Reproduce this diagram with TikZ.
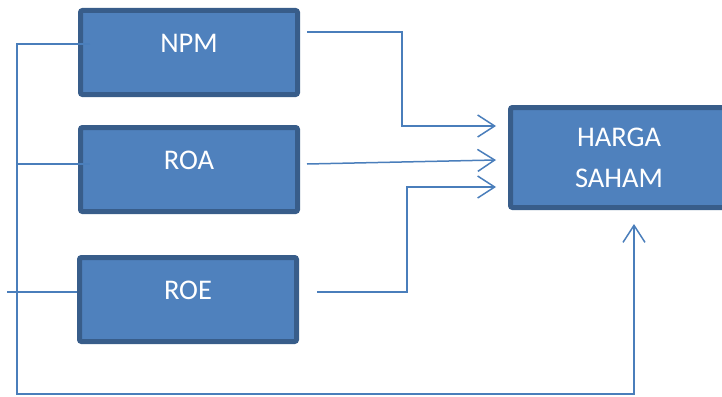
\documentclass[tikz,border=0pt]{standalone}
\usepackage{fontspec}
\setmainfont{Carlito}
\usetikzlibrary{arrows.meta}
\definecolor{boxfill}{HTML}{4F81BD}
\definecolor{boxline}{HTML}{385D8A}
\definecolor{connline}{HTML}{4A7EBB}
\tikzset{
  box/.style={draw=boxline, fill=boxfill, line width=5pt, rounded corners=2pt,
    minimum width=217pt, text=white, font=\fontsize{28.5}{41}\selectfont},
  smallbox/.style={box, minimum height=84pt, text height=20pt, text depth=20pt},
  conn/.style={draw=connline, line width=1.5pt},
  arr/.style={conn, -{Straight Barb[length=17pt, width=22pt]}}
}
\begin{document}
\begin{tikzpicture}[x=1pt, y=-1pt]
\useasboundingbox (0,0) rectangle (722,396);
\clip (0,0) rectangle (722,396);
\node[smallbox] (npm) at (189,52.5) {NPM};
\node[smallbox] (roa) at (189,169.5) {ROA};
\node[smallbox] (roe) at (188,299.5) {ROE};
\node[box, minimum height=100pt, align=center] (harga) at (619,157.5) {HARGA\\SAHAM};
% left bus
\coordinate (b1) at (17,44);
\coordinate (b2) at (17,394);
\coordinate (r1) at (17,164);
\coordinate (e1) at (7,292);
\draw[arr] ([xshift=12pt,yshift=8.5pt]npm.west) -- (b1) -- (b2) -| ([xshift=15pt,yshift=-14pt]harga.south);
\draw[conn] (r1) -- ([xshift=12pt,yshift=5.5pt]roa.west);
\draw[conn] (e1) -- ([yshift=7.5pt]roe.west);
% right connectors
\draw[arr] ([xshift=7pt,yshift=20.5pt]npm.east) -| (402,126) -- ([xshift=-12pt,yshift=31.5pt]harga.west);
\draw[arr] ([xshift=7pt,yshift=5.5pt]roa.east) -- ([xshift=-12pt,yshift=-2.5pt]harga.west);
\draw[arr] ([xshift=18pt,yshift=7.5pt]roe.east) -| (407,187) -- ([xshift=-12pt,yshift=-29.5pt]harga.west);
\end{tikzpicture}
\end{document}
